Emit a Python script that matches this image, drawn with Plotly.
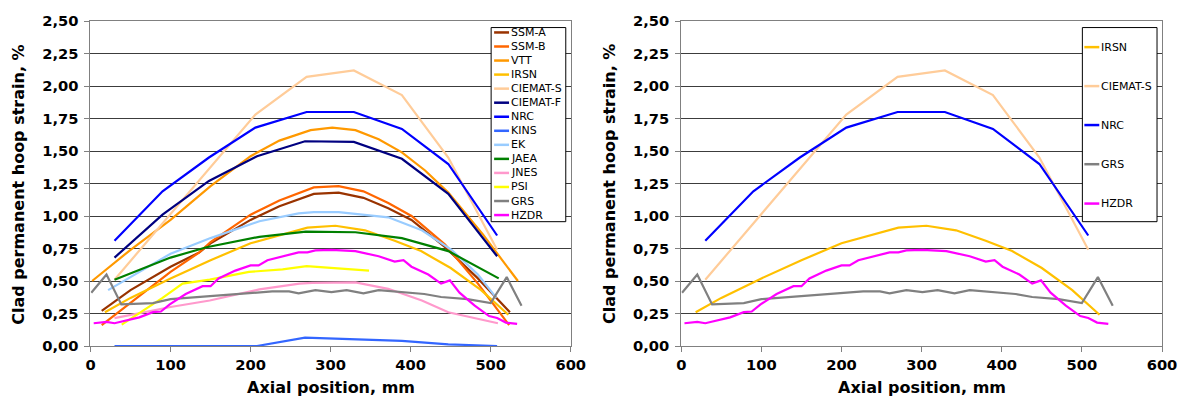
import plotly.graph_objects as go

# ---------------- data ----------------
ssma_x = [14, 50, 100, 136, 150, 200, 236, 279, 310, 341, 372, 401, 443, 484, 524]
ssma_y = [0.27, 0.43, 0.61, 0.72, 0.79, 0.97, 1.075, 1.17, 1.18, 1.14, 1.06, 0.97, 0.76, 0.52, 0.26]

ssmb_x = [14, 50, 100, 136, 150, 200, 236, 279, 310, 341, 372, 401, 443, 484, 523]
ssmb_y = [0.16, 0.33, 0.57, 0.72, 0.80, 1.01, 1.12, 1.22, 1.23, 1.19, 1.10, 1.00, 0.78, 0.48, 0.16]

vtt_x = [2, 50, 100, 150, 200, 236, 275, 302, 331, 360, 389, 418, 447, 490, 534]
vtt_y = [0.50, 0.74, 0.97, 1.23, 1.46, 1.58, 1.66, 1.68, 1.66, 1.59, 1.49, 1.35, 1.18, 0.86, 0.50]

irsn_x = [18, 50, 100, 150, 200, 240, 271, 306, 343, 380, 413, 450, 488, 522]
irsn_y = [0.26, 0.37, 0.52, 0.66, 0.79, 0.86, 0.91, 0.925, 0.89, 0.81, 0.73, 0.60, 0.43, 0.24]

ciemats_x = [30, 90, 148, 206, 270, 329, 389, 447, 508]
ciemats_y = [0.51, 0.94, 1.36, 1.78, 2.07, 2.12, 1.93, 1.45, 0.74]

ciematf_x = [30, 90, 148, 208, 268, 329, 389, 447, 508]
ciematf_y = [0.68, 1.01, 1.27, 1.46, 1.575, 1.57, 1.44, 1.17, 0.69]

nrc_x = [30, 90, 148, 206, 270, 329, 389, 447, 508]
nrc_y = [0.81, 1.19, 1.45, 1.68, 1.80, 1.80, 1.67, 1.40, 0.85]

kins_x = [30, 90, 148, 208, 268, 329, 389, 447, 508]
kins_y = [0.0, 0.0, 0.0, 0.0, 0.065, 0.055, 0.04, 0.013, 0.0]

ek_x = [22, 50, 100, 150, 211, 260, 279, 310, 341, 372, 414, 451, 484, 507]
ek_y = [0.43, 0.53, 0.71, 0.83, 0.96, 1.02, 1.03, 1.03, 1.01, 0.99, 0.89, 0.74, 0.55, 0.37]

jaea_x = [30, 100, 145, 211, 269, 331, 389, 418, 447, 510]
jaea_y = [0.51, 0.68, 0.76, 0.84, 0.88, 0.875, 0.83, 0.78, 0.73, 0.52]

jnes_x = [30, 100, 149, 211, 261, 277, 331, 372, 414, 447, 509]
jnes_y = [0.215, 0.30, 0.35, 0.435, 0.48, 0.485, 0.49, 0.44, 0.35, 0.26, 0.175]

psi_x = [39, 66, 90, 115, 149, 198, 240, 270, 300, 348]
psi_y = [0.165, 0.27, 0.37, 0.48, 0.51, 0.57, 0.59, 0.615, 0.60, 0.58]

grs_x = [1, 20, 38.5, 78, 100, 150, 200, 227, 248, 260, 281, 301, 320, 341, 360, 380, 417, 438, 471, 500, 520, 538.5]
grs_y = [0.41, 0.55, 0.32, 0.33, 0.36, 0.385, 0.41, 0.42, 0.42, 0.405, 0.43, 0.415, 0.43, 0.405, 0.43, 0.42, 0.40, 0.377, 0.36, 0.33, 0.53, 0.31]

hzdr_x = [4, 20, 30, 45, 61, 78, 88, 99, 119, 140, 150, 160, 181, 200, 210, 221, 239, 260, 271, 281, 301, 331, 360,
          380, 391, 401, 422, 438, 449, 461, 480, 498, 508, 519, 533]
hzdr_y = [0.175, 0.185, 0.175, 0.195, 0.22, 0.26, 0.265, 0.32, 0.40, 0.46, 0.46, 0.52, 0.58, 0.62, 0.62, 0.66, 0.69,
          0.72, 0.72, 0.735, 0.74, 0.73, 0.69, 0.65, 0.66, 0.61, 0.55, 0.48, 0.505, 0.41, 0.31, 0.23, 0.215, 0.18, 0.17]

names = ["SSM-A", "SSM-B", "VTT", "IRSN", "CIEMAT-S", "CIEMAT-F", "NRC", "KINS", "EK", "JAEA", "JNES", "PSI", "GRS", "HZDR"]
colors = ["#993300", "#FF6600", "#FF9900", "#FFC000", "#FFCC99", "#000080", "#0000FF", "#3366FF", "#99CCFF",
          "#008000", "#FF99CC", "#FFFF00", "#808080", "#FF00FF"]
xs = [ssma_x, ssmb_x, vtt_x, irsn_x, ciemats_x, ciematf_x, nrc_x, kins_x, ek_x, jaea_x, jnes_x, psi_x, grs_x, hzdr_x]
ys = [ssma_y, ssmb_y, vtt_y, irsn_y, ciemats_y, ciematf_y, nrc_y, kins_y, ek_y, jaea_y, jnes_y, psi_y, grs_y, hzdr_y]
right_names = ["IRSN", "CIEMAT-S", "NRC", "GRS", "HZDR"]

x_ticks = [0, 100, 200, 300, 400, 500, 600]
y_ticks = [0, 0.25, 0.5, 0.75, 1.0, 1.25, 1.5, 1.75, 2.0, 2.25, 2.5]

# ---------------- layout geometry ----------------
W, H = 1189, 401
ML, MR, MT, MB = 90, 22, 14, 55
PW, PH = W - ML - MR, H - MT - MB


def fx(p):
    return (p - ML) / PW


def fy(p):
    return (H - MB - p) / PH


fig = go.Figure()
for n, c, x, y in zip(names, colors, xs, ys):
    fig.add_trace(go.Scatter(x=x, y=y, mode="lines", name=n, line=dict(color=c, width=2.2),
                             xaxis="x", yaxis="y", showlegend=False))
for n, c, x, y in zip(names, colors, xs, ys):
    if n in right_names:
        fig.add_trace(go.Scatter(x=x, y=y, mode="lines", name=n, line=dict(color=c, width=2.2),
                                 xaxis="x2", yaxis="y2", showlegend=False))

tickfont = dict(family="DejaVu Sans", size=14.7, color="black", weight="bold")
axis_common = dict(showline=True, linecolor="#808080", linewidth=1, mirror=True,
                   ticks="outside", ticklen=5, tickcolor="#808080", tickfont=tickfont,
                   zeroline=False)
xcommon = dict(range=[0, 600], tickvals=x_ticks, showgrid=False, **axis_common)
ycommon = dict(range=[0, 2.5], tickvals=y_ticks, tickformat=".2f", showgrid=True,
               gridcolor="#3c3c3c", gridwidth=1, ticklabelstandoff=3, **axis_common)

fig.update_layout(
    width=W, height=H, margin=dict(l=ML, r=MR, t=MT, b=MB),
    paper_bgcolor="white", plot_bgcolor="white", separators=", ",
    showlegend=False,
    xaxis=dict(domain=[fx(90.5), fx(573)], anchor="y", **xcommon),
    yaxis=dict(domain=[0, 1], anchor="x", **ycommon),
    xaxis2=dict(domain=[fx(684), 1.0], anchor="y2", **xcommon),
    yaxis2=dict(domain=[0, 1], anchor="x2", **ycommon),
)

titlefont = dict(family="DejaVu Sans", size=16, color="black", weight="bold")
for cx in [(90.5 + 573) / 2, (684 + 1167) / 2]:
    fig.add_annotation(x=fx(cx), y=fy(388), xref="paper", yref="paper", text="Axial position, mm",
                       showarrow=False, font=titlefont, xanchor="center", yanchor="middle")
for cx in [18, 612]:
    fig.add_annotation(x=fx(cx), y=fy(181), xref="paper", yref="paper", text="Clad permanent hoop strain, %",
                       showarrow=False, font=titlefont, textangle=-90, xanchor="center", yanchor="middle")

# ---------------- legends ----------------
legfont = dict(family="DejaVu Sans", size=11, color="black")


def draw_legend(x0, x1, y0, y1, entries, ys_px, lx0, lx1, tx):
    fig.add_shape(type="rect", xref="paper", yref="paper", x0=fx(x0), x1=fx(x1), y0=fy(y1), y1=fy(y0),
                  line=dict(color="black", width=1), fillcolor="white", layer="above")
    for (n, c), yp in zip(entries, ys_px):
        fig.add_shape(type="line", xref="paper", yref="paper", x0=fx(lx0), x1=fx(lx1), y0=fy(yp), y1=fy(yp),
                      line=dict(color=c, width=2.5), layer="above")
        fig.add_annotation(x=fx(tx), y=fy(yp), xref="paper", yref="paper", text=n, showarrow=False,
                           font=legfont, xanchor="left", yanchor="middle", xshift=-1)


left_entries = list(zip(names, colors))
draw_legend(493, 568, 20.7, 219, left_entries, [25.7 + i * 14.35 for i in range(14)], 496, 511, 512)
right_entries = [(n, c) for n, c in zip(names, colors) if n in right_names]
draw_legend(1087, 1162, 20.7, 219, right_entries, [40.7, 80.5, 120.3, 160.3, 200.5], 1089, 1104, 1105)

fig.write_html("out.html", config={"displayModeBar": False},
               post_script="document.body.style.margin='0px';document.body.style.overflow='hidden';")
